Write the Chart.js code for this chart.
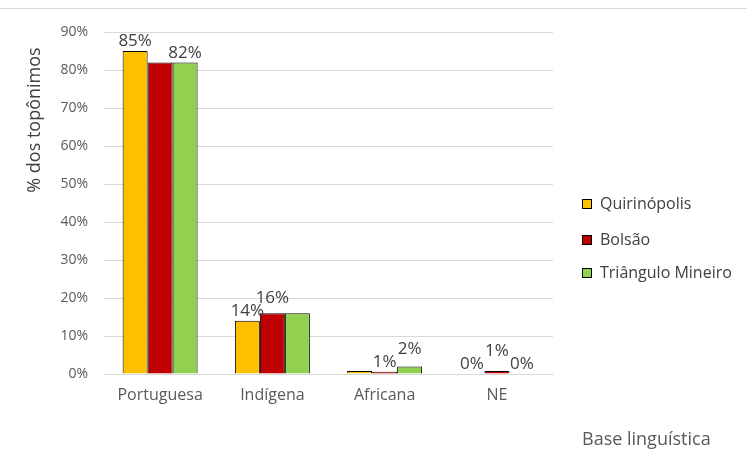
<!DOCTYPE html>
<html>
<head>
<meta charset="utf-8">
<script src="https://cdn.jsdelivr.net/npm/chart.js@4/dist/chart.umd.min.js"></script>
<style>
  html, body { margin: 0; padding: 0; background: #fff; }
  #wrap { width: 747px; height: 452px; position: relative; }
</style>
</head>
<body>
<div id="wrap"><canvas id="barChart" width="747" height="452"></canvas></div>
<script>
const categories = ['Portuguesa', 'Indígena', 'Africana', 'NE'];

const quirinopolis = [85, 14, 0.8, 0];
const bolsao = [82, 16, 0.6, 0.8];
const trianguloMineiro = [82, 16, 2, 0];

// which bars carry a value label in the picture
const labelQuirinopolis = [true, true, false, true];
const labelBolsao = [false, true, true, true];
const labelTriangulo = [true, false, true, true];

const yTicks = [0, 10, 20, 30, 40, 50, 60, 70, 80, 90];

const font = '"Open Sans", "Liberation Sans", sans-serif';

const extras = {
  id: 'extras',
  afterDraw(chart) {
    const c = chart.ctx;
    c.save();
    // top border line
    c.strokeStyle = '#d9d9d9';
    c.lineWidth = 1;
    c.beginPath();
    c.moveTo(0, 8.5);
    c.lineTo(747, 8.5);
    c.stroke();

    // value labels; a label is lifted when it collides with the previous (unlifted) one
    c.fillStyle = '#404040';
    c.font = '17px ' + font;
    c.textAlign = 'center';
    c.textBaseline = 'bottom';
    const flags = [labelQuirinopolis, labelBolsao, labelTriangulo];
    const h = 18;
    categories.forEach((cat, j) => {
      let prev = null;
      chart.data.datasets.forEach((ds, i) => {
        if (!flags[i][j]) { prev = null; return; }
        const bar = chart.getDatasetMeta(i).data[j];
        const text = Math.round(ds.data[j]) + '%';
        const w = c.measureText(text).width;
        let bottom = bar.y - 1;
        let lifted = false;
        if (prev && !prev.lifted) {
          const overlapX = Math.abs(prev.x - bar.x) < (prev.w + w) / 2 + 4;
          const overlapY = bottom > prev.bottom - h && bottom - h < prev.bottom;
          if (overlapX && overlapY) {
            bottom = Math.min(bottom, prev.bottom - h + 5);
            lifted = true;
          }
        }
        prev = { x: bar.x, w: w, bottom: bottom, lifted: lifted };
        c.fillText(text, bar.x, bottom);
      });
    });

    // y axis title
    c.save();
    c.translate(35, 120);
    c.rotate(-Math.PI / 2);
    c.textBaseline = 'middle';
    c.font = '18px ' + font;
    c.fillText('% dos topônimos', 0, 0);
    c.restore();

    // x axis title
    c.fillStyle = '#595959';
    c.font = '18px ' + font;
    c.textAlign = 'left';
    c.textBaseline = 'middle';
    c.fillText('Base linguística', 582, 440);

    // legend
    const ys = [204, 240, 273];
    c.font = '16px ' + font;
    chart.data.datasets.forEach((ds, i) => {
      c.fillStyle = ds.backgroundColor;
      c.fillRect(582, ys[i] - 5, 10, 10);
      c.strokeStyle = '#000';
      c.lineWidth = 1;
      c.strokeRect(582.5, ys[i] - 4.5, 9, 9);
      c.fillStyle = '#404040';
      c.fillText(ds.label, 600, ys[i]);
    });
    c.restore();
  }
};

const ctx = document.getElementById('barChart');

if (ctx) {
  new Chart(ctx, {
    type: 'bar',
    data: {
      labels: categories,
      datasets: [
        { label: 'Quirinópolis', data: quirinopolis, backgroundColor: '#FFC000', borderColor: '#000', borderWidth: 1 },
        { label: 'Bolsão', data: bolsao, backgroundColor: '#C00000', borderColor: '#000', borderWidth: 1 },
        { label: 'Triângulo Mineiro', data: trianguloMineiro, backgroundColor: '#92D050', borderColor: '#000', borderWidth: 1 },
      ],
    },
    options: {
      responsive: false,
      animation: false,
      devicePixelRatio: 1,
      layout: { padding: { left: 0, right: 194, top: 32, bottom: 0 } },
      categoryPercentage: 0.668,
      barPercentage: 1,
      plugins: {
        legend: { display: false },
        tooltip: { enabled: false },
      },
      scales: {
        x: {
          grid: { display: false, drawTicks: false },
          border: { color: '#d9d9d9' },
          ticks: { color: '#595959', font: { family: font, size: 16 }, padding: 12, maxRotation: 0 },
          afterFit(s) { s.height = 78; },
        },
        y: {
          min: 0,
          max: 90,
          afterBuildTicks(s) { s.ticks = yTicks.map(v => ({ value: v })); },
          grid: { color: '#d9d9d9', drawTicks: false },
          border: { display: false },
          ticks: {
            color: '#595959',
            font: { family: font, size: 14 },
            padding: 16,
            callback: v => v + '%',
          },
          afterFit(s) { s.width = 104; },
        },
      },
    },
    plugins: [extras],
  });
}
</script>
</body>
</html>
